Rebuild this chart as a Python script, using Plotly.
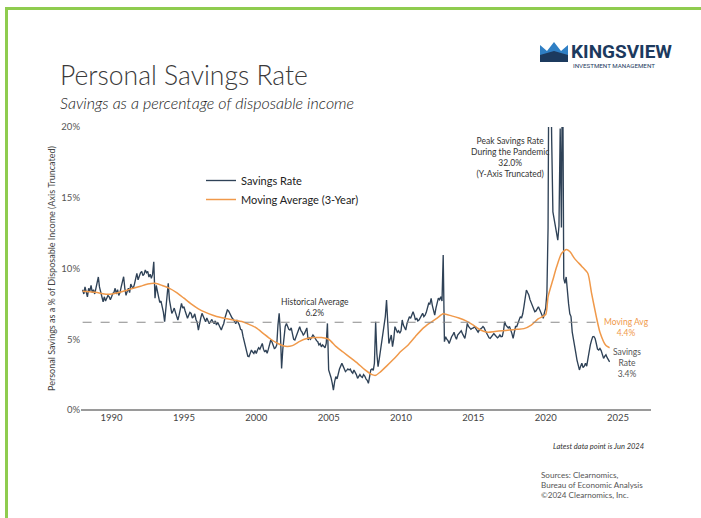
import pandas as pd
import plotly.graph_objects as go

# ---------------- DATA ----------------
savings_rate_by_year = {
    1988: [8.5, 8.2, 8.7, 8.3, 8.0, 8.6, 8.4, 8.8, 8.3, 8.5, 8.2, 8.6],
    1989: [9.0, 9.4, 8.7, 8.3, 7.9, 7.65, 8.0, 7.7, 7.9, 8.1, 8.0, 7.8],
    1990: [8.0, 8.24, 8.3, 8.6, 8.2, 8.5, 8.1, 8.3, 8.7, 9.0, 9.42, 8.6],
    1991: [8.1, 8.4, 8.6, 8.3, 8.9, 8.7, 8.6, 8.9, 9.3, 9.66, 9.2, 9.5],
    1992: [9.7, 9.8, 9.5, 9.6, 9.9, 9.7, 9.8, 9.4, 9.6, 9.3, 9.6, 10.47],
    1993: [7.9, 8.8, 8.3, 8.0, 7.6, 7.7, 7.3, 6.9, 6.24, 7.2, 7.8, 8.95],
    1994: [7.77, 7.2, 6.83, 7.0, 7.2, 6.9, 6.6, 6.36, 6.7, 7.1, 7.54, 7.2],
    1995: [7.3, 7.0, 6.8, 6.48, 6.7, 6.9, 6.83, 6.5, 6.6, 6.8, 6.4, 6.2],
    1996: [5.65, 6.2, 6.5, 6.83, 6.6, 6.4, 6.24, 6.5, 6.3, 6.1, 6.24, 6.4],
    1997: [6.24, 6.1, 6.3, 6.0, 6.2, 6.0, 5.8, 5.65, 5.9, 6.1, 6.5, 6.9],
    1998: [7.07, 7.0, 6.8, 6.7, 6.5, 6.4, 6.24, 6.1, 6.36, 6.2, 6.0, 5.7],
    1999: [5.65, 5.2, 4.9, 4.47, 4.1, 3.8, 3.77, 4.0, 4.24, 4.1, 4.0, 4.2],
    2000: [4.0, 4.24, 4.4, 4.3, 4.5, 4.7, 4.3, 4.1, 4.24, 4.0, 4.3, 4.6],
    2001: [4.95, 4.8, 4.5, 4.35, 4.4, 4.6, 6.0, 6.83, 5.5, 2.94, 4.3, 5.42],
    2002: [5.9, 6.12, 5.9, 5.7, 5.65, 5.8, 5.4, 5.0, 4.95, 5.2, 5.5, 5.7],
    2003: [5.89, 5.6, 5.5, 5.3, 5.4, 5.6, 5.8, 4.95, 5.1, 5.0, 5.18, 5.3],
    2004: [5.18, 5.0, 4.9, 4.83, 4.6, 4.7, 4.47, 4.6, 4.5, 4.4, 4.7, 6.12],
    2005: [2.83, 2.59, 2.3, 1.9, 1.41, 2.0, 2.36, 2.2, 2.6, 2.9, 3.1, 3.3],
    2006: [3.1, 2.9, 2.71, 2.8, 2.9, 2.83, 2.9, 2.7, 2.6, 2.83, 2.7, 2.5],
    2007: [2.24, 2.4, 2.5, 2.36, 2.3, 2.5, 2.4, 2.2, 2.1, 1.89, 2.3, 2.83],
    2008: [2.9, 2.8, 3.3, 6.24, 4.0, 3.06, 3.6, 4.24, 4.6, 5.5, 6.0, 6.6],
    2009: [7.77, 6.0, 4.7, 5.0, 5.3, 4.47, 5.0, 5.89, 5.65, 5.5, 5.6, 5.42],
    2010: [5.6, 6.36, 6.0, 5.8, 5.65, 6.1, 6.3, 6.6, 6.48, 6.7, 6.95, 6.7],
    2011: [6.36, 6.5, 6.3, 6.36, 6.5, 6.6, 6.83, 6.6, 6.7, 6.9, 7.2, 7.54],
    2012: [7.5, 7.89, 7.4, 7.0, 6.7, 7.2, 7.6, 7.9, 7.8, 8.0, 7.7, 10.95],
    2013: [4.83, 5.18, 5.0, 4.9, 4.7, 5.0, 5.18, 5.3, 5.5, 5.2, 5.0, 5.3],
    2014: [5.4, 5.53, 5.6, 5.4, 5.2, 5.06, 5.5, 6.12, 5.9, 5.8, 5.7, 5.77],
    2015: [5.8, 5.9, 5.77, 5.65, 5.5, 5.65, 5.7, 5.8, 5.9, 5.8, 5.6, 5.4],
    2016: [5.3, 5.1, 5.06, 5.2, 5.3, 5.4, 5.3, 5.18, 5.1, 5.18, 5.3, 5.18],
    2017: [5.2, 5.6, 6.24, 6.0, 5.9, 5.8, 5.9, 5.7, 5.4, 5.06, 5.5, 5.9],
    2018: [5.9, 6.1, 6.3, 6.6, 6.5, 6.8, 7.3, 7.9, 8.48, 8.3, 8.13, 7.8],
    2019: [7.6, 7.4, 7.2, 6.95, 7.0, 7.2, 7.3, 7.1, 6.9, 6.7, 6.48, 6.9],
    2020: [7.2, 8.3, 12.9, 32.0, 24.4, 19.0, 14.0, 13.5, 13.0, 12.3, 12.0, 13.0],
    2021: [19.9, 12.9, 26.6, 9.3, 8.95, 9.4, 8.24, 7.5, 6.8, 6.6, 5.5, 4.9],
    2022: [4.47, 4.0, 3.53, 3.2, 2.83, 3.1, 3.3, 3.0, 3.1, 3.3, 3.1, 3.6],
    2023: [4.24, 4.6, 4.9, 5.18, 5.2, 5.06, 4.7, 4.3, 4.24, 4.35, 4.2, 3.9],
    2024: [3.65, 3.8, 3.9, 3.7, 3.53, 3.4],
}

moving_avg_dates = [
    "1988-01", "1988-07", "1989-01", "1989-07", "1990-01", "1990-07", "1991-01", "1991-07",
    "1992-01", "1992-07", "1993-01", "1993-07", "1994-01", "1994-07", "1995-01", "1995-07",
    "1996-01", "1996-07", "1997-01", "1997-07", "1998-01", "1998-07", "1999-01", "1999-07",
    "2000-01", "2000-07", "2001-01", "2001-07", "2002-01", "2002-07", "2003-01", "2003-07",
    "2004-01", "2004-07", "2005-01", "2005-07", "2006-01", "2006-07", "2007-01", "2007-07",
    "2008-01", "2008-04", "2008-08", "2009-01", "2009-07", "2010-01", "2010-07", "2011-01",
    "2011-07", "2012-01", "2012-07", "2012-12", "2013-07", "2014-01", "2014-07", "2015-01",
    "2015-07", "2016-01", "2016-07", "2017-01", "2017-07", "2018-01", "2018-07", "2019-01",
    "2019-07", "2020-01", "2020-03", "2020-07", "2020-10", "2021-02", "2021-06", "2021-09",
    "2022-01", "2022-07", "2022-12", "2023-03", "2023-07", "2023-10", "2024-03", "2024-06",
]
moving_avg_values = [
    8.4, 8.35, 8.3, 8.2, 8.2, 8.3, 8.45, 8.6,
    8.75, 8.9, 8.95, 8.8, 8.6, 8.3, 7.9, 7.5,
    7.15, 6.9, 6.7, 6.55, 6.45, 6.35, 6.25, 6.05,
    5.8, 5.4, 5.0, 4.7, 4.5, 4.55, 4.85, 5.05,
    5.12, 5.12, 5.0, 4.5, 4.1, 3.7, 3.3, 2.85,
    2.5, 2.45, 2.7, 3.1, 3.6, 4.15, 4.6, 5.2,
    5.75, 6.15, 6.5, 6.8, 6.65, 6.5, 6.3, 6.0,
    5.65, 5.5, 5.55, 5.6, 5.65, 5.7, 5.75, 6.0,
    6.45, 6.75, 8.0, 9.2, 10.1, 11.05, 11.35, 11.2,
    10.7, 10.15, 9.65, 8.3, 6.6, 5.5, 4.55, 4.4,
]

historical_average = 6.2
historical_average_span = ["1988-01-01", "2023-11-01"]
x_tick_years = [1990, 1995, 2000, 2005, 2010, 2015, 2020, 2025]
y_tick_values = [0, 5, 10, 15, 20]
y_tick_labels = ["0%", "5%", "10%", "15%", "20%"]
source_lines = ["Sources: Clearnomics,", "Bureau of Economic Analysis", "©2024 Clearnomics, Inc."]

# ---------------- BUILD ----------------
sr_values = [v for yr in sorted(savings_rate_by_year) for v in savings_rate_by_year[yr]]
sr_dates = pd.date_range("1988-01-01", periods=len(sr_values), freq="MS")
ma_dates = pd.to_datetime(moving_avg_dates)

W, H = 701, 518
L, R, T, B = 81, 651, 127, 410


def px(x):
    return (x - L) / (R - L)


def py(y):
    return (B - y) / (B - T)


NAVY = "#2f4257"
ORANGE = "#f0994a"
FONT = "Lato"

fig = go.Figure()
fig.add_trace(go.Scatter(
    x=sr_dates, y=sr_values, mode="lines", name="Savings Rate",
    line=dict(color=NAVY, width=1.35), hoverinfo="x+y"))
fig.add_trace(go.Scatter(
    x=ma_dates, y=moving_avg_values, mode="lines", name="Moving Average (3-Year)",
    line=dict(color=ORANGE, width=1.5, shape="spline", smoothing=0.6)))
fig.add_trace(go.Scatter(
    x=pd.to_datetime(historical_average_span), y=[historical_average] * 2, mode="lines",
    showlegend=False, line=dict(color="#8a8a8a", width=1.1, dash="dash"), hoverinfo="skip"))

ann = []


def text(x, y, s, size, color="#333333", xanchor="center", yanchor="middle",
         align="center", italic=False, weight=None, family=FONT, angle=None):
    f = dict(size=size, color=color, family=family)
    if italic:
        f["style"] = "italic"
    if weight:
        f["weight"] = weight
    d = dict(x=px(x), y=py(y), xref="paper", yref="paper", text=s, showarrow=False,
             xanchor=xanchor, yanchor=yanchor, align=align, font=f)
    if angle is not None:
        d["textangle"] = angle
    ann.append(d)


text(58, 75, "Personal Savings Rate", 26.5, color="#3a3a3a", xanchor="left", weight=300)
text(58, 102, "Savings as a percentage of disposable income", 16, color="#222222",
     xanchor="left", italic=True, weight=300)
text(569, 52, "KINGSVIEW", 19, color="#1c3a5e", xanchor="left", weight=700, family="Roboto")
text(571, 66, "INVESTMENT MANAGEMENT", 6.2, color="#1c3a5e", xanchor="left", family="Roboto")

text(315, 307, "Historical Average<br>6.2%", 8.5, color="#333333")
text(510, 157, "Peak Savings Rate<br>During the Pandemic<br>32.0%<br>(Y-Axis Truncated)",
     8.5, color="#333333")
text(626, 327, "Moving Avg<br>4.4%", 8.5, color=ORANGE)
text(627, 363, "Savings<br>Rate<br>3.4%", 8.5, color="#555555")
text(646, 446, "Latest data point is Jun 2024", 7.5, color="#333333", xanchor="right", italic=True)
for i, line in enumerate(source_lines):
    text(539, 474.5 + 10 * i, line, 8.1, color="#555555", xanchor="left", align="left")

shapes = []
GREEN = "#8fcc4f"
# frame
shapes.append(dict(type="line", xref="paper", yref="paper", x0=px(5), x1=px(701),
                   y0=py(8.5), y1=py(8.5), line=dict(color=GREEN, width=3)))
shapes.append(dict(type="line", xref="paper", yref="paper", x0=px(6.5), x1=px(6.5),
                   y0=py(7), y1=py(518), line=dict(color=GREEN, width=3)))


def poly(points, color):
    d = "M " + " L ".join(f"{px(a)},{py(b)}" for a, b in points) + " Z"
    shapes.append(dict(type="path", xref="paper", yref="paper", path=d,
                       fillcolor=color, line=dict(width=0)))


# logo crown
poly([(540, 45), (547, 51), (554, 42), (561, 51), (568, 45), (568, 56), (540, 56)], "#2f7fc4")
poly([(540, 55), (554, 51), (568, 55), (568, 62), (540, 62)], "#1c3a5e")

fig.update_layout(
    width=W, height=H,
    margin=dict(l=L, r=W - R, t=T, b=H - B, autoexpand=False),
    paper_bgcolor="white", plot_bgcolor="white",
    font=dict(family=FONT, color="#444444"),
    showlegend=True,
    legend=dict(x=px(201), y=py(166), xanchor="left", yanchor="top",
                font=dict(size=11, color="#222222", family=FONT),
                bgcolor="rgba(0,0,0,0)", tracegroupgap=0, itemwidth=30),
    annotations=ann, shapes=shapes,
    xaxis=dict(type="date", range=["1987-11-21", "2027-04-12"],
               tickvals=[pd.Timestamp(f"{y}-01-01") for y in x_tick_years],
               ticktext=[str(y) for y in x_tick_years],
               showgrid=False, zeroline=False, showline=False, ticks="",
               tickfont=dict(size=9.5, color="#444444"), fixedrange=True),
    yaxis=dict(range=[0, 20], tickvals=y_tick_values, ticktext=y_tick_labels,
               showgrid=False, zeroline=True, zerolinecolor="#9a9a9a", zerolinewidth=1.5,
               showline=False, ticks="", tickfont=dict(size=9.5, color="#555555"),
               title=dict(text="Personal Savings as a % of Disposable Income (Axis Truncated)",
                          font=dict(size=9, color="#444444"), standoff=4),
               fixedrange=True),
)

fig.write_html("out.html")
